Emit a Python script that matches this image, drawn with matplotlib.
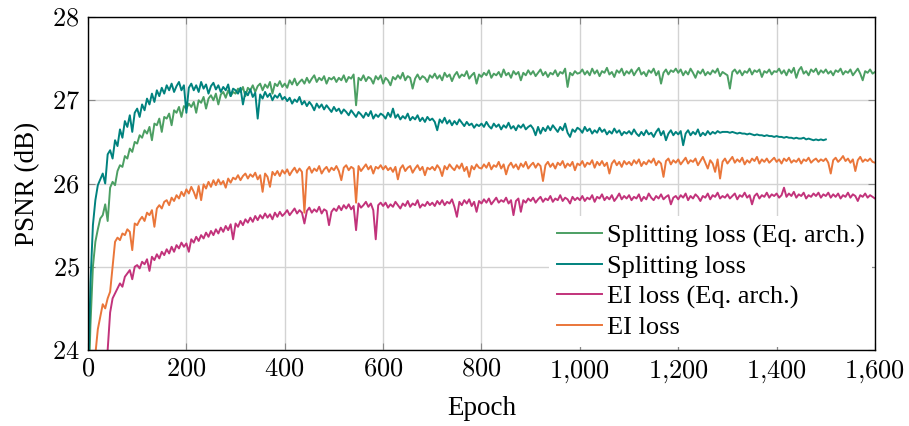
import numpy as np
import matplotlib.pyplot as plt
from matplotlib.ticker import FuncFormatter

plt.rcParams['font.family'] = ['Liberation Serif', 'DejaVu Serif']
plt.rcParams['mathtext.fontset'] = 'cm'

# PSNR every 5 epochs
epochs = np.arange(0, 1601, 5)

split_eq = [
    23.30, 24.30, 25.00, 25.30, 25.45, 25.58, 25.62, 25.75, 25.55, 25.95, 26.02, 25.98, 26.15, 26.22, 26.20, 26.33, 26.30, 26.42, 26.38, 26.50,
    26.48, 26.58, 26.55, 26.64, 26.60, 26.68, 26.52, 26.72, 26.70, 26.78, 26.62, 26.80, 26.78, 26.84, 26.70, 26.88, 26.85, 26.92, 26.80, 26.93,
    26.90, 26.96, 26.92, 26.98, 26.85, 27.00, 26.97, 27.04, 26.90, 27.02, 27.06, 27.00, 27.08, 26.95, 27.07, 27.10, 27.03, 27.12, 27.05, 27.10,
    27.08, 27.14, 27.10, 27.16, 27.05, 27.15, 27.12, 27.18, 27.10, 27.17, 27.20, 27.12, 27.19, 27.15, 27.22, 27.08, 27.20, 27.17, 27.23, 27.16,
    27.20, 27.15, 27.24, 27.19, 27.26, 27.18, 27.22, 27.25, 27.20, 27.27, 27.21, 27.26, 27.30, 27.22, 27.27, 27.24, 27.29, 27.20, 27.27, 27.25,
    27.28, 27.22, 27.27, 27.24, 27.30, 27.22, 27.28, 27.26, 27.31, 26.94, 27.27, 27.24, 27.30, 27.23, 27.28, 27.26, 27.20, 27.29, 27.25, 27.30,
    27.20, 27.27, 27.24, 27.18, 27.28, 27.25, 27.30, 27.26, 27.33, 27.24, 27.29, 27.27, 27.14, 27.26, 27.31, 27.25, 27.29, 27.27, 27.22, 27.30,
    27.27, 27.32, 27.26, 27.30, 27.24, 27.33, 27.28, 27.31, 27.23, 27.30, 27.34, 27.27, 27.31, 27.29, 27.35, 27.26, 27.30, 27.33, 27.20, 27.31,
    27.28, 27.33, 27.30, 27.36, 27.27, 27.32, 27.30, 27.34, 27.28, 27.37, 27.30, 27.33, 27.27, 27.35, 27.31, 27.34, 27.24, 27.33, 27.30, 27.36,
    27.31, 27.35, 27.29, 27.33, 27.37, 27.30, 27.34, 27.28, 27.33, 27.31, 27.36, 27.29, 27.34, 27.32, 27.38, 27.16, 27.33, 27.30, 27.35, 27.32,
    27.33, 27.37, 27.31, 27.35, 27.30, 27.38, 27.32, 27.36, 27.29, 27.35, 27.33, 27.39, 27.31, 27.34, 27.28, 27.36, 27.33, 27.38, 27.30, 27.35,
    27.32, 27.37, 27.30, 27.35, 27.39, 27.31, 27.34, 27.29, 27.36, 27.33, 27.38, 27.30, 27.35, 27.20, 27.33, 27.37, 27.31, 27.36, 27.34, 27.38,
    27.33, 27.37, 27.30, 27.35, 27.31, 27.38, 27.33, 27.27, 27.35, 27.32, 27.37, 27.30, 27.34, 27.31, 27.36, 27.33, 27.38, 27.29, 27.34, 27.32,
    27.30, 27.14, 27.34, 27.37, 27.32, 27.36, 27.30, 27.35, 27.33, 27.38, 27.31, 27.36, 27.34, 27.37, 27.28, 27.35, 27.33, 27.37, 27.31, 27.35,
    27.34, 27.38, 27.32, 27.36, 27.30, 27.37, 27.33, 27.39, 27.27, 27.36, 27.40, 27.32, 27.35, 27.30, 27.37, 27.34, 27.38, 27.31, 27.36, 27.33,
    27.37, 27.32, 27.35, 27.30, 27.36, 27.34, 27.38, 27.31, 27.35, 27.33, 27.37, 27.30, 27.34, 27.38, 27.32, 27.24, 27.35, 27.33, 27.37, 27.32,
    27.34,
]

# stops at epoch 1500
split = [
    23.50, 24.80, 25.50, 25.80, 25.98, 26.05, 26.12, 26.00, 26.35, 26.40, 26.30, 26.52, 26.45, 26.65, 26.55, 26.75, 26.68, 26.82, 26.62, 26.85,
    26.90, 26.80, 26.95, 26.88, 27.02, 26.95, 27.08, 26.98, 27.12, 27.05, 27.15, 27.08, 27.18, 27.12, 27.20, 27.10, 27.17, 27.22, 27.12, 27.18,
    26.85, 27.15, 27.20, 27.12, 27.18, 27.10, 27.22, 27.14, 27.19, 27.08, 27.17, 27.21, 27.13, 27.18, 27.10, 27.16, 27.12, 27.19, 27.05, 27.14,
    27.12, 27.08, 27.15, 26.95, 27.10, 27.06, 27.13, 27.04, 27.09, 26.78, 27.07, 27.02, 27.10, 27.04, 27.08, 27.00, 27.06, 27.03, 27.08, 27.01,
    27.04, 26.99, 27.03, 26.96, 27.01, 26.98, 27.04, 26.95, 26.99, 26.93, 26.98, 26.94, 26.88, 26.96, 26.91, 26.95, 26.89, 26.94, 26.90, 26.86,
    26.92, 26.87, 26.90, 26.84, 26.89, 26.86, 26.82, 26.88, 26.84, 26.80, 26.86, 26.83, 26.79, 26.85, 26.81, 26.87, 26.78, 26.83, 26.80, 26.84,
    26.82, 26.78, 26.85, 26.80, 26.90, 26.79, 26.83, 26.77, 26.81, 26.78, 26.84, 26.76, 26.80, 26.77, 26.82, 26.75, 26.79, 26.74, 26.80, 26.76,
    26.78, 26.74, 26.64, 26.77, 26.73, 26.79, 26.72, 26.76, 26.70, 26.75, 26.71, 26.77, 26.73, 26.69, 26.74, 26.70, 26.72, 26.67, 26.71, 26.69,
    26.72, 26.68, 26.74, 26.69, 26.66, 26.72, 26.68, 26.71, 26.65, 26.70, 26.67, 26.73, 26.66, 26.69, 26.64, 26.70, 26.67, 26.71, 26.65, 26.68,
    26.70, 26.66, 26.58, 26.68, 26.60, 26.67, 26.63, 26.69, 26.64, 26.70, 26.66, 26.62, 26.68, 26.64, 26.72, 26.61, 26.56, 26.65, 26.62, 26.67,
    26.65, 26.61, 26.68, 26.63, 26.66, 26.60, 26.64, 26.61, 26.67, 26.62, 26.65, 26.59, 26.63, 26.60, 26.66, 26.61, 26.64, 26.58, 26.62, 26.60,
    26.63, 26.59, 26.65, 26.60, 26.57, 26.62, 26.58, 26.64, 26.59, 26.61, 26.56, 26.62, 26.66, 26.58, 26.63, 26.52, 26.60, 26.64, 26.58, 26.62,
    26.59, 26.63, 26.46, 26.60, 26.64, 26.58, 26.62, 26.59, 26.65, 26.57, 26.61, 26.58, 26.63, 26.59, 26.62, 26.60, 26.63, 26.61, 26.62, 26.62,
    26.62, 26.61, 26.62, 26.61, 26.60, 26.61, 26.60, 26.60, 26.59, 26.60, 26.59, 26.58, 26.59, 26.58, 26.58, 26.57, 26.58, 26.57, 26.57, 26.56,
    26.57, 26.56, 26.56, 26.55, 26.56, 26.55, 26.55, 26.54, 26.55, 26.54, 26.54, 26.55, 26.53, 26.54, 26.53, 26.52, 26.53, 26.52, 26.53, 26.52,
    26.53,
]

ei_eq = [
    23.00, 23.00, 23.00, 23.00, 23.00, 23.00, 23.20, 23.60, 24.00, 24.45, 24.62, 24.68, 24.74, 24.80, 24.76, 24.88, 24.92, 24.96, 24.85, 25.00,
    25.02, 24.98, 25.06, 25.03, 25.09, 24.95, 25.12, 25.08, 25.15, 25.10, 25.18, 25.14, 25.21, 25.16, 25.24, 25.18, 25.26, 25.22, 25.29, 25.24,
    25.28, 25.18, 25.33, 25.29, 25.36, 25.31, 25.38, 25.34, 25.41, 25.36, 25.43, 25.38, 25.45, 25.40, 25.47, 25.42, 25.49, 25.44, 25.51, 25.33,
    25.52, 25.48, 25.55, 25.50, 25.57, 25.53, 25.59, 25.54, 25.61, 25.56, 25.62, 25.58, 25.64, 25.59, 25.63, 25.57, 25.65, 25.60, 25.66, 25.61,
    25.64, 25.68, 25.62, 25.66, 25.70, 25.64, 25.68, 25.65, 25.52, 25.67, 25.71, 25.65, 25.69, 25.66, 25.72, 25.64, 25.69, 25.67, 25.50, 25.66,
    25.70, 25.67, 25.73, 25.68, 25.74, 25.70, 25.75, 25.69, 25.73, 25.44, 25.76, 25.71, 25.74, 25.78, 25.72, 25.76, 25.68, 25.33, 25.74, 25.77,
    25.73, 25.77, 25.71, 25.75, 25.72, 25.78, 25.74, 25.70, 25.76, 25.73, 25.79, 25.72, 25.76, 25.74, 25.80, 25.71, 25.75, 25.73, 25.78, 25.74,
    25.77, 25.73, 25.79, 25.75, 25.80, 25.74, 25.78, 25.76, 25.81, 25.72, 25.60, 25.78, 25.74, 25.80, 25.76, 25.81, 25.73, 25.78, 25.66, 25.79,
    25.76, 25.81, 25.77, 25.82, 25.75, 25.79, 25.83, 25.77, 25.80, 25.78, 25.83, 25.76, 25.80, 25.62, 25.79, 25.82, 25.66, 25.80, 25.77, 25.82,
    25.79, 25.83, 25.77, 25.81, 25.84, 25.78, 25.82, 25.80, 25.85, 25.78, 25.82, 25.80, 25.86, 25.79, 25.83, 25.81, 25.76, 25.84, 25.80, 25.83,
    25.80, 25.85, 25.79, 25.83, 25.81, 25.86, 25.78, 25.84, 25.82, 25.87, 25.80, 25.84, 25.81, 25.86, 25.79, 25.83, 25.88, 25.81, 25.85, 25.82,
    25.86, 25.80, 25.84, 25.82, 25.87, 25.79, 25.84, 25.81, 25.88, 25.83, 25.80, 25.85, 25.82, 25.87, 25.81, 25.84, 25.86, 25.75, 25.83, 25.85,
    25.81, 25.86, 25.83, 25.88, 25.80, 25.85, 25.82, 25.87, 25.84, 25.79, 25.85, 25.83, 25.88, 25.81, 25.86, 25.84, 25.89, 25.82, 25.85, 25.83,
    25.87, 25.82, 25.85, 25.88, 25.81, 25.86, 25.84, 25.89, 25.83, 25.86, 25.75, 25.85, 25.88, 25.82, 25.86, 25.84, 25.89, 25.83, 25.87, 25.85,
    25.88, 25.83, 25.86, 25.95, 25.84, 25.88, 25.85, 25.90, 25.83, 25.87, 25.85, 25.89, 25.82, 25.86, 25.84, 25.88, 25.85, 25.89, 25.83, 25.87,
    25.85, 25.89, 25.83, 25.87, 25.84, 25.88, 25.82, 25.86, 25.84, 25.89, 25.83, 25.87, 25.85, 25.79, 25.86, 25.84, 25.88, 25.83, 25.86, 25.84,
    25.82,
]

ei = [
    23.00, 23.30, 23.70, 23.95, 24.25, 24.40, 24.55, 24.50, 24.62, 24.70, 25.00, 25.30, 25.35, 25.32, 25.40, 25.38, 25.45, 25.42, 25.20, 25.52,
    25.50, 25.56, 25.60, 25.55, 25.65, 25.62, 25.68, 25.48, 25.70, 25.74, 25.70, 25.78, 25.80, 25.74, 25.83, 25.79, 25.86, 25.82, 25.90, 25.85,
    25.93, 25.88, 25.96, 25.90, 25.82, 25.97, 25.80, 25.99, 25.94, 26.02, 25.96, 26.04, 25.98, 26.05, 25.99, 26.03, 25.95, 26.06, 26.01, 26.07,
    26.05, 26.10, 26.04, 26.09, 26.12, 26.06, 26.11, 26.08, 26.13, 26.05, 26.10, 25.90, 26.12, 26.08, 25.96, 26.14, 26.10, 26.15, 26.09, 26.16,
    26.12, 26.17, 26.10, 26.15, 26.19, 26.13, 26.18, 26.14, 25.65, 26.16, 26.20, 26.13, 26.18, 26.15, 26.21, 26.12, 26.17, 26.20, 26.14, 26.19,
    26.16, 26.21, 26.15, 26.04, 26.19, 26.22, 26.16, 26.20, 26.18, 25.77, 26.21, 26.15, 26.19, 26.23, 26.17, 26.21, 26.12, 26.20, 26.18, 26.22,
    26.17, 26.21, 26.16, 26.19, 26.14, 26.20, 26.05, 26.18, 26.22, 26.15, 26.19, 26.21, 26.13, 26.18, 26.22, 26.16, 26.20, 26.10, 26.19, 26.17,
    26.20, 26.16, 26.22, 26.18, 26.09, 26.21, 26.17, 26.23, 26.19, 26.16, 26.22, 26.18, 26.24, 26.15, 26.20, 26.08, 26.21, 26.17, 26.23, 26.19,
    26.18, 26.23, 26.19, 26.25, 26.17, 26.22, 26.20, 26.26, 26.18, 26.23, 26.11, 26.21, 26.25, 26.19, 26.23, 26.17, 26.24, 26.20, 26.26, 26.18,
    26.22, 26.25, 26.19, 26.24, 26.21, 26.03, 26.22, 26.26, 26.20, 26.24, 26.18, 26.25, 26.22, 26.27, 26.19, 26.24, 26.21, 26.26, 26.16, 26.24,
    26.22, 26.27, 26.20, 26.25, 26.23, 26.28, 26.19, 26.26, 26.22, 26.27, 26.21, 26.25, 26.12, 26.24, 26.28, 26.22, 26.26, 26.20, 26.27, 26.23,
    26.26, 26.22, 26.28, 26.24, 26.29, 26.21, 26.26, 26.23, 26.28, 26.25, 26.30, 26.22, 26.27, 26.24, 26.08, 26.27, 26.30, 26.23, 26.28, 26.25,
    26.29, 26.23, 26.27, 26.31, 26.24, 26.28, 26.26, 26.30, 26.22, 26.27, 26.32, 26.25, 26.18, 26.28, 26.24, 26.14, 26.29, 26.06, 26.26, 26.30,
    26.24, 26.28, 26.32, 26.25, 26.29, 26.26, 26.31, 26.23, 26.28, 26.25, 26.30, 26.27, 26.32, 26.24, 26.29, 26.26, 26.30, 26.25, 26.28, 26.31,
    26.26, 26.29, 26.24, 26.30, 26.27, 26.31, 26.25, 26.28, 26.26, 26.30, 26.24, 26.29, 26.27, 26.31, 26.25, 26.28, 26.30, 26.26, 26.29, 26.27,
    26.30, 26.25, 26.12, 26.28, 26.31, 26.26, 26.29, 26.33, 26.27, 26.30, 26.25, 26.29, 26.15, 26.28, 26.32, 26.26, 26.29, 26.27, 26.30, 26.26,
    26.25,
]

labels = ['Splitting loss (Eq. arch.)', 'Splitting loss', 'EI loss (Eq. arch.)', 'EI loss']
colors = ['#4c9f63', '#00827e', '#c2337b', '#ea763a']

fig = plt.figure(figsize=(9.09, 4.26), dpi=100)
ax = fig.add_axes([0.0968, 0.1784, 0.8658, 0.7816])

for vals, lab, col in zip([split_eq, split, ei_eq, ei], labels, colors):
    ax.plot(epochs[:len(vals)], vals, color=col, lw=1.4, label=lab)

ax.set_xlim(0, 1600)
ax.set_ylim(24, 28)
ax.set_xticks(range(0, 1601, 200))
ax.set_yticks([24, 25, 26, 27, 28])
fmt = FuncFormatter(lambda v, p: '$' + f'{int(v):,}'.replace(',', '{,}') + '$')
ax.xaxis.set_major_formatter(fmt)
ax.yaxis.set_major_formatter(fmt)
ax.tick_params(direction='in', length=5, color='#888888', labelsize=19, pad=6)
ax.tick_params(top=True, right=True)
ax.grid(True, color='#d3d3d3', lw=1)
ax.set_axisbelow(True)
for s in ax.spines.values():
    s.set_linewidth(1.0)

ax.set_xlabel('Epoch', fontsize=19.5, labelpad=8)
ax.set_ylabel('PSNR (dB)', fontsize=19.5, labelpad=8)

leg = ax.legend(loc='lower right', fontsize=19, frameon=True, fancybox=False,
                framealpha=1, edgecolor='none', facecolor='white',
                handlelength=1.7, handletextpad=0.2, labelspacing=0.26,
                borderpad=0.3, borderaxespad=0.1)

fig.savefig('out.png', dpi=100)
